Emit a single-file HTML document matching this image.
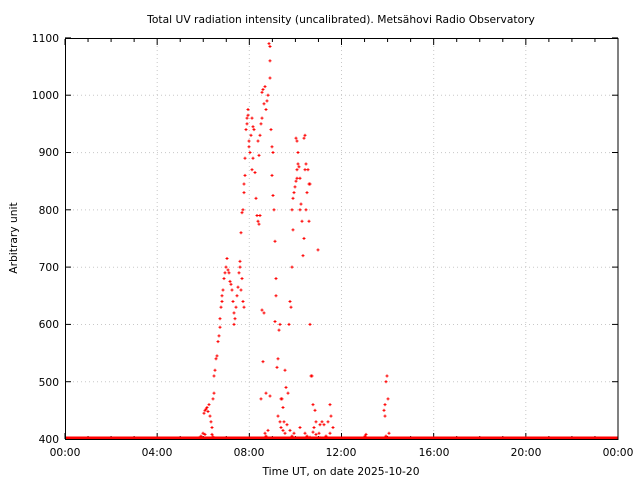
<!DOCTYPE html>
<html><head><meta charset="utf-8"><style>
html,body{margin:0;padding:0;background:#fff;}
svg{display:block;font-family:"DejaVu Sans","Liberation Sans",sans-serif;}
</style></head><body>
<svg id="s" width="640" height="480" viewBox="0 0 640 480" xmlns="http://www.w3.org/2000/svg">
<rect width="640" height="480" fill="#fff"/>
<text x="341" y="23" font-size="10.7" text-anchor="middle">Total UV radiation intensity (uncalibrated). Metsähovi Radio Observatory</text>
<g stroke="#c8c8c8" stroke-width="1" stroke-dasharray="1,3">
<line x1="65" y1="95.3" x2="618" y2="95.3"/><line x1="65" y1="152.6" x2="618" y2="152.6"/>
<line x1="65" y1="209.9" x2="618" y2="209.9"/><line x1="65" y1="267.2" x2="618" y2="267.2"/>
<line x1="65" y1="324.5" x2="618" y2="324.5"/><line x1="65" y1="381.8" x2="618" y2="381.8"/>
<line x1="157.2" y1="38" x2="157.2" y2="439"/><line x1="249.3" y1="38" x2="249.3" y2="439"/>
<line x1="341.5" y1="38" x2="341.5" y2="439"/><line x1="433.7" y1="38" x2="433.7" y2="439"/>
<line x1="525.8" y1="38" x2="525.8" y2="439"/>
</g>
<g id="ticks" stroke="#000" stroke-width="1"></g>
<g font-size="10.7" text-anchor="end">
<text x="59" y="42">1100</text><text x="59" y="99">1000</text><text x="59" y="156">900</text>
<text x="59" y="214">800</text><text x="59" y="271">700</text><text x="59" y="328">600</text>
<text x="59" y="386">500</text><text x="59" y="443">400</text>
</g>
<g font-size="10.7" text-anchor="middle">
<text x="65" y="456">00:00</text><text x="157" y="456">04:00</text><text x="249" y="456">08:00</text>
<text x="341" y="456">12:00</text><text x="434" y="456">16:00</text><text x="526" y="456">20:00</text>
<text x="618" y="456">00:00</text>
<text x="341" y="475">Time UT, on date 2025-10-20</text>
</g>
<text transform="translate(17,238) rotate(-90)" font-size="10.7" text-anchor="middle">Arbitrary unit</text>
<rect x="65" y="436.5" width="553" height="3" fill="#f00"/>
<g id="pts" fill="#f00"></g>
<rect x="65.5" y="38.5" width="552.5" height="401" fill="none" stroke="#000" stroke-width="1"/>
</svg>
<script>
var t=document.getElementById('ticks'),h='';
for(var i=0;i<=24;i++){var x=65+i*553/24;var L=(i%4==0)?6:3;h+='<line x1="'+x+'" y1="439" x2="'+x+'" y2="'+(439-L)+'"/><line x1="'+x+'" y1="39" x2="'+x+'" y2="'+(39+L)+'"/>';}
for(var v=400;v<=1100;v+=100){var y=439-(v-400)*0.573;h+='<line x1="65" y1="'+y+'" x2="71" y2="'+y+'"/><line x1="618" y1="'+y+'" x2="612" y2="'+y+'"/>';}
t.innerHTML=h;
var d=[[199,402],[201,405],[203,410],[205,408],[204,445],[205,450],[206,452],[207,455],[208,448],[209,460],[210,440],[211,430],[212,420],[213,470],[214,480],[214,510],[215,520],[216,540],[217,545],[218,570],[219,580],[220,595],[220,610],[221,630],[222,650],[222,640],[223,660],[224,680],[225,690],[226,700],[227,715],[228,695],[229,690],[230,675],[231,670],[232,660],[233,640],[234,600],[234,620],[235,610],[236,630],[237,650],[238,665],[239,690],[240,710],[240,700],[241,660],[242,680],[243,640],[244,630],[212,408],[213,404],
[241,760],[242,795],[243,800],[244,830],[244,845],[245,860],[245,890],[246,940],[247,950],[247,960],[248,965],[248,975],[249,920],[249,910],[250,900],[251,930],[252,960],[253,945],[254,940],[252,870],[253,890],[255,865],[256,820],[257,790],[258,780],[259,775],[260,790],[258,920],[259,895],[260,930],[261,950],[262,960],[262,1005],[263,1010],[264,985],[265,1015],[266,975],[267,990],[268,1000],[269,1090],[270,1085],[270,1060],[270,1030],[271,940],[272,910],[273,900],[272,860],[273,825],[274,800],[275,745],[276,680],[276,650],[275,605],[264,620],[262,625],[263,535],[261,470],[270,475],[266,480],[265,410],[266,405],[267,402],[268,415],
[277,525],[278,540],[279,590],[280,600],[281,470],[282,470],[283,455],[284,430],[285,520],[286,490],[288,480],[289,600],[290,640],[291,630],[292,700],[293,765],[292,800],[293,820],[294,830],[295,840],[296,850],[297,855],[297,870],[298,880],[299,875],[296,925],[297,920],[298,900],[300,855],[300,800],[301,810],[302,780],[303,720],[304,750],[305,870],[306,880],[306,800],[307,830],[304,925],[305,930],[308,870],[309,845],[310,845],[309,780],[310,600],[311,510],[312,510],[313,460],[314,420],[315,450],[316,430],[318,730],[319,410],[320,425],[322,430],[324,425],[328,430],[330,460],[331,440],[333,420],[278,440],[280,430],[281,420],[283,415],[285,410],[287,425],[290,415],[292,405],[294,410],[300,420],[305,410],[307,405],[310,403],[313,412],[316,408],[320,402],[326,405],[330,410],
[384,450],[385,460],[386,500],[387,510],[388,470],[385,440],[389,410],[386,405],[365,405],[366,408]];
var p='';for(var k=0;k<d.length;k++){var y=439-(d[k][1]-400)*0.573;var x=d[k][0];p+='<rect x="'+(x-1.5)+'" y="'+(y-0.5)+'" width="3" height="1"/><rect x="'+(x-0.5)+'" y="'+(y-1.5)+'" width="1" height="3"/>';}
document.getElementById('pts').innerHTML=p;
</script>
</body></html>
